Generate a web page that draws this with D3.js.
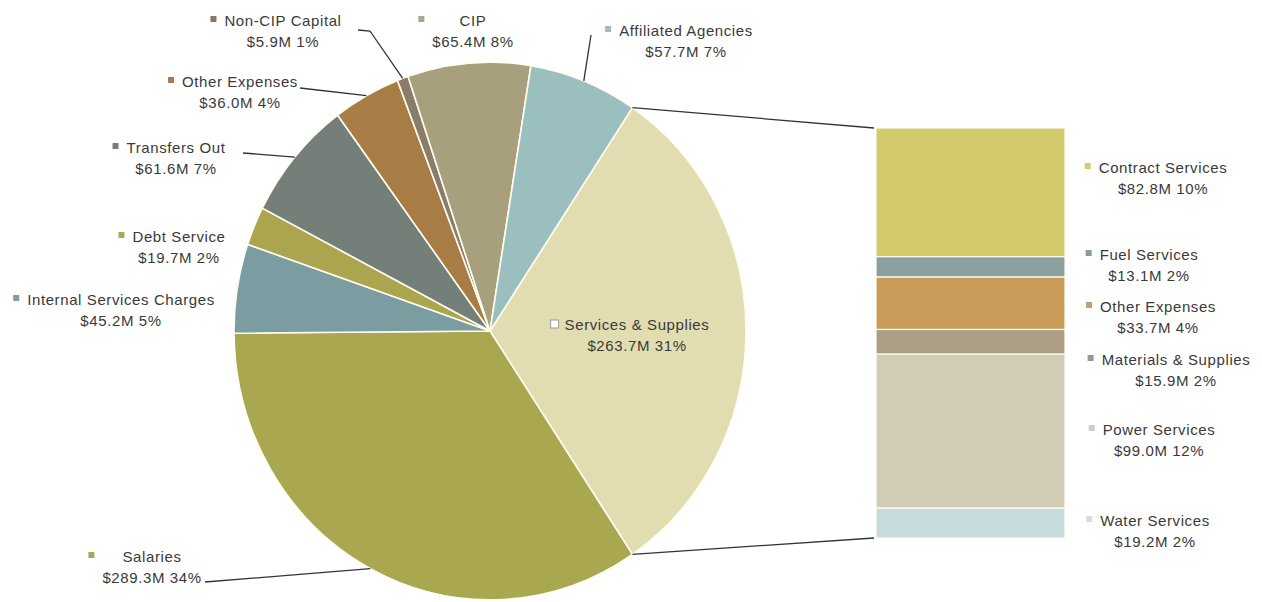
<!DOCTYPE html>
<html>
<head>
<meta charset="utf-8">
<script src="https://cdn.jsdelivr.net/npm/d3@7"></script>
<style>
body{margin:0;background:#fff;}
text{font-family:"Liberation Sans",Arial,sans-serif;font-size:15px;letter-spacing:0.6px;fill:#3a3a3a;}
</style>
</head>
<body>
<svg id="svg" width="1262" height="602"></svg>
<script>
// pie slices, clockwise starting with the exploded one
var pieNames=["Services & Supplies","Salaries","Internal Services Charges","Debt Service","Transfers Out","Other Expenses","Non-CIP Capital","CIP","Affiliated Agencies"];
var pieValues=[263.7,289.3,45.2,19.7,61.6,36.0,5.9,65.4,57.7];
var piePcts=[31,34,5,2,7,4,1,8,7];
var pieColors=["#e2ddb1","#a9a750","#7b9ca0","#aba54f","#757f79","#a87c45","#8b7b6b","#a8a07d","#9bbfbf"];
var pieMarkers=["#ffffff","#a3a85e","#7f9fa0","#aaa85e","#75807a","#a87c50","#8b7565","#a8a590","#9bbdbd"];

// breakdown of Services & Supplies
var barNames=["Contract Services","Fuel Services","Other Expenses","Materials & Supplies","Power Services","Water Services"];
var barValues=[82.8,13.1,33.7,15.9,99.0,19.2];
var barPcts=[10,2,4,2,12,2];
var barColors=["#d2ca6b","#8c9fa0","#c99b59","#ab9d86","#d1ccb6","#c6dbdc"];
var barMarkers=["#d8cc6a","#8e9a9a","#c4a070","#999990","#cfcfc6","#d4dcdc"];

// label layout: [center x, first baseline]
var pieLabelPos=[[637,330],[152,562],[121,305],[179,242],[176,153],[240,87],[283,26],[473,26],[686,36]];
var pieLeaders=[null,[[205,582]],null,null,[[243,153]],[[300,88]],[[358,30],[370,31]],null,[[591,35]]];
var barLabelPos=[[1163,173],[1149,260],[1158,312],[1176,365],[1159,435],[1155,526]];

var cx=490,cy=331,r=256,sy=1.05;
var svg=d3.select("#svg");

var total=d3.sum(pieValues);
var start=Math.PI/2-Math.PI*pieValues[0]/total;
var pie=d3.pie().sort(null).value(d=>d).startAngle(start).endAngle(start+2*Math.PI);
var arcs=pie(pieValues);
var arc=d3.arc().innerRadius(0).outerRadius(r);

function edge(a){return [cx+r*Math.sin(a),cy-r*sy*Math.cos(a)];}

var pieG=svg.append("g").attr("transform","translate("+cx+","+cy+") scale(1,"+sy+")");
pieG.selectAll("path").data(arcs).enter().append("path")
    .attr("d",arc)
    .attr("fill",(d,i)=>pieColors[i])
    .attr("stroke","#fffdf0")
    .attr("stroke-width",1.6)
    .attr("vector-effect","non-scaling-stroke");

// bar of pie
var barTotal=d3.sum(barValues);
var y=d3.scaleLinear().domain([0,barTotal]).range([128,538]);
var x0=876,x1=1065;
var cum=0;
var segs=barValues.map(v=>{var s={a:cum,b:cum+v};cum+=v;return s;});
svg.append("g").selectAll("rect").data(segs).enter().append("rect")
    .attr("x",x0).attr("width",x1-x0)
    .attr("y",d=>y(d.a)).attr("height",d=>y(d.b)-y(d.a))
    .attr("fill",(d,i)=>barColors[i])
    .attr("stroke","#fffdf0").attr("stroke-width",1.2);

// connector lines
var line=d3.line();
var p0=edge(arcs[0].startAngle),p1=edge(arcs[0].endAngle);
svg.append("path").attr("d",line([p0,[x0-2,y(0)]])).attr("stroke","#333").attr("stroke-width",1.3).attr("fill","none");
svg.append("path").attr("d",line([p1,[x0-2,y(barTotal)]])).attr("stroke","#333").attr("stroke-width",1.3).attr("fill","none");

// leader lines
arcs.forEach((d,i)=>{
    if(!pieLeaders[i])return;
    var pts=pieLeaders[i].concat([edge((d.startAngle+d.endAngle)/2)]);
    svg.append("path").attr("d",line(pts)).attr("stroke","#333").attr("stroke-width",1.3).attr("fill","none");
});

function addLabel(pos,name,value,pct,marker,outlined){
    var g=svg.append("g");
    var t1=g.append("text").attr("x",pos[0]).attr("y",pos[1]).attr("text-anchor","middle").text(name);
    var t2=g.append("text").attr("x",pos[0]).attr("y",pos[1]+21).attr("text-anchor","middle").text("$"+value.toFixed(1)+"M "+pct+"%");
    var w=Math.max(t1.node().getComputedTextLength(),t2.node().getComputedTextLength());
    g.append("rect")
        .attr("x",pos[0]-w/2-14).attr("y",pos[1]-10)
        .attr("width",outlined?8:6).attr("height",outlined?8:6)
        .attr("fill",marker)
        .attr("stroke",outlined?"#999":"none");
}

pieNames.forEach((n,i)=>addLabel(pieLabelPos[i],n,pieValues[i],piePcts[i],pieMarkers[i],i===0));
barNames.forEach((n,i)=>addLabel(barLabelPos[i],n,barValues[i],barPcts[i],barMarkers[i],false));
</script>
</body>
</html>
